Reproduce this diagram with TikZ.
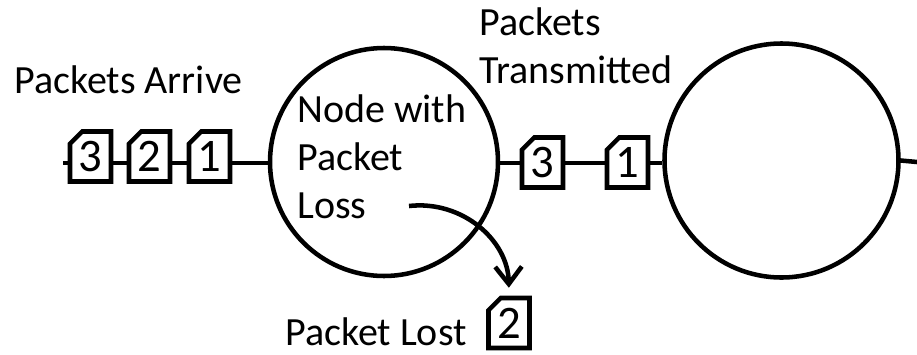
\documentclass[tikz,border=0pt]{standalone}
\usepackage{fontspec}
\setmainfont{Carlito}
\usetikzlibrary{shapes.misc,arrows.meta}
\newcommand\lblfont{\fontsize{30}{36}\selectfont}
\newcommand\digitfont{\fontsize{35}{36}\selectfont}
\begin{document}
\begin{tikzpicture}[x=0.75pt,y=-0.75pt,
  wire/.style={line width=3.4pt},
  station/.style={circle,draw,line width=3.4pt,inner sep=0pt},
  packet/.style={chamfered rectangle,chamfered rectangle corners=north west,
    chamfered rectangle xsep=6pt,draw,line width=3.4pt,line join=miter,
    minimum width=30.75pt,minimum height=37.5pt,inner sep=0pt,font=\digitfont},
  caption/.style={inner sep=0pt,anchor=base west,align=left,font=\lblfont},
  lossarrow/.style={line width=3.4pt,-{Straight Barb[length=13pt,width=20pt,line width=3.4pt]}}]
\useasboundingbox (0,0) rectangle (917,354);

% stations
\node[station,minimum size=171pt] (n1) at (384,162) {};
\node[station,minimum size=175.5pt] (n2) at (781.5,160.5) {};

% packets waiting on the incoming link
\node[packet] (a3) at (90.5,156.5) {3};
\node[packet] (a2) at (149.5,156.5) {2};
\node[packet] (a1) at (209.5,156.5) {1};

% packets forwarded on the outgoing link
\node[packet] (b3) at (542.5,162.5) {3};
\node[packet] (b1) at (627.5,162.5) {1};

% dropped packet
\node[packet] (c2) at (509,323) {2};

% link level and free ends
\coordinate (lvl) at (0,163);
\coordinate (inend) at (63,163);
\coordinate (outend) at (917,162);

% links
\draw[wire] (inend) -- (a3.west |- lvl);
\draw[wire] (a3.east |- lvl) -- (a2.west |- lvl);
\draw[wire] (a2.east |- lvl) -- (a1.west |- lvl);
\draw[wire] (a1.east |- lvl) -- (n1.west |- lvl);
\draw[wire] (n1.east |- lvl) -- (b3.west |- lvl);
\draw[wire] (b3.east |- lvl) -- (b1.west |- lvl);
\draw[wire] (b1.east |- lvl) -- (n2.west |- lvl);
\draw[wire] (n2.east) -- (outend);

% labels (anchored on the baseline of their last line)
\node[caption] (arrive) at (14,93) {Packets Arrive};
\node[caption] (sent) at (479,83) {Packets\\Transmitted};
\node[caption] (lossy) at (297,218) {Node with\\Packet\\Loss};
\node[caption] (lost) at (285,345) {Packet Lost};

% drop path
\coordinate (dropstart) at (409,206);
\draw[lossarrow,shorten >=6pt] (dropstart) .. controls (462,200) and (508,240) .. (c2.north);
\end{tikzpicture}
\end{document}
